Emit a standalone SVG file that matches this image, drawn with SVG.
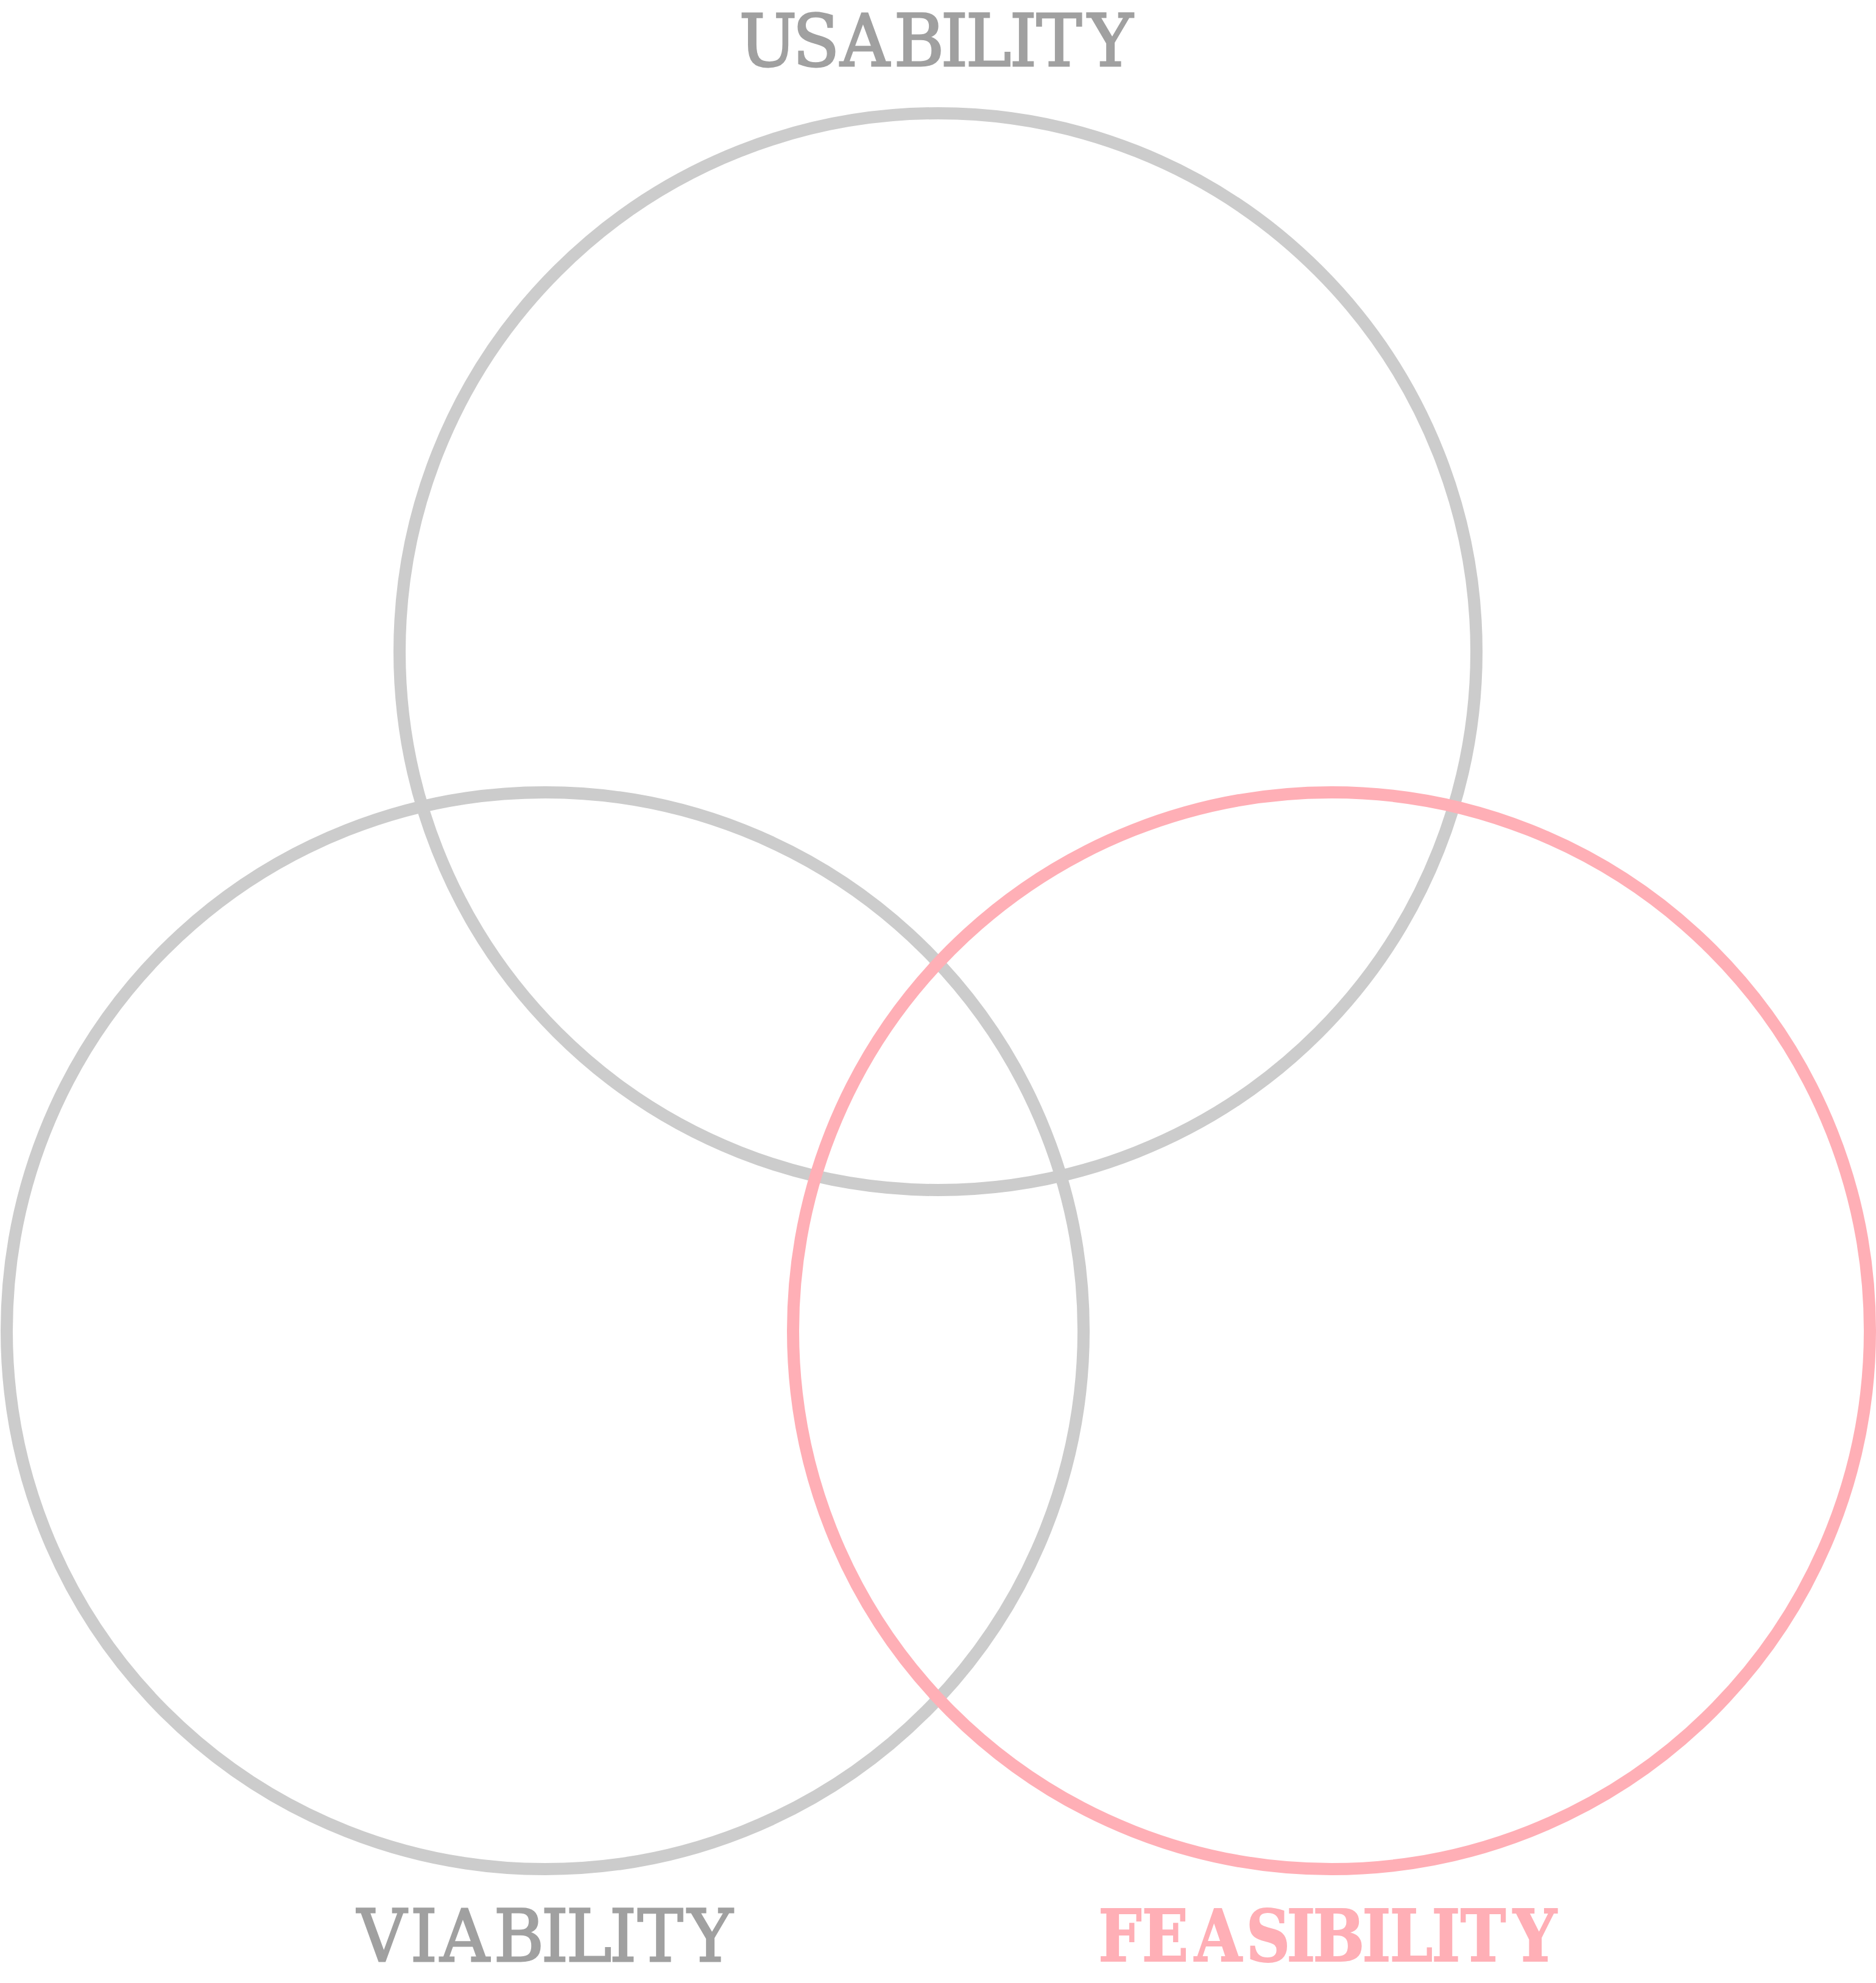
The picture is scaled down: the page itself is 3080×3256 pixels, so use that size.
<svg xmlns="http://www.w3.org/2000/svg" width="3080" height="3256" viewBox="0 0 3080 3256">
<style>
.ring{fill:none;stroke-width:20}
.gray{stroke:#cccccc}
.pink{stroke:#ffafb6}
.lbl{font-family:"DejaVu Serif","Liberation Serif",serif;font-size:118px;text-anchor:middle}
.lg{fill:#a0a0a0;stroke:#a0a0a0;stroke-width:3}
.lp{fill:#ffafb6;stroke:#ffafb6;stroke-width:2;font-weight:bold}
</style>
<rect width="3080" height="3256" fill="#ffffff"/>
<g id="usability">
<circle class="ring gray" cx="1540" cy="1070" r="884"/>
<text class="lbl lg" transform="scale(0.95,1)" x="1327.4 1410.5 1494.7 1588.4 1649.5 1708.4 1768.4 1830.5 1918.9" y="108">USABILITY</text>
</g>
<g id="viability">
<circle class="ring gray" cx="895" cy="2185" r="884"/>
<text class="lbl lg" transform="scale(0.95,1)" x="660 732.6 803.2 896.8 958.9 1017.9 1076.8 1141.1 1227.4" y="3220">VIABILITY</text>
</g>
<g id="feasibility">
<circle class="ring pink" cx="2186" cy="2185" r="884"/>
<text class="lbl lp" transform="scale(0.85,1)" x="2163.5 2250.6 2352.9 2449.4 2512.9 2585.9 2658.8 2725.9 2792.9 2864.7 2964.7" y="3220">FEASIBILITY</text>
</g>
<g id="connectors"></g>
</svg>
